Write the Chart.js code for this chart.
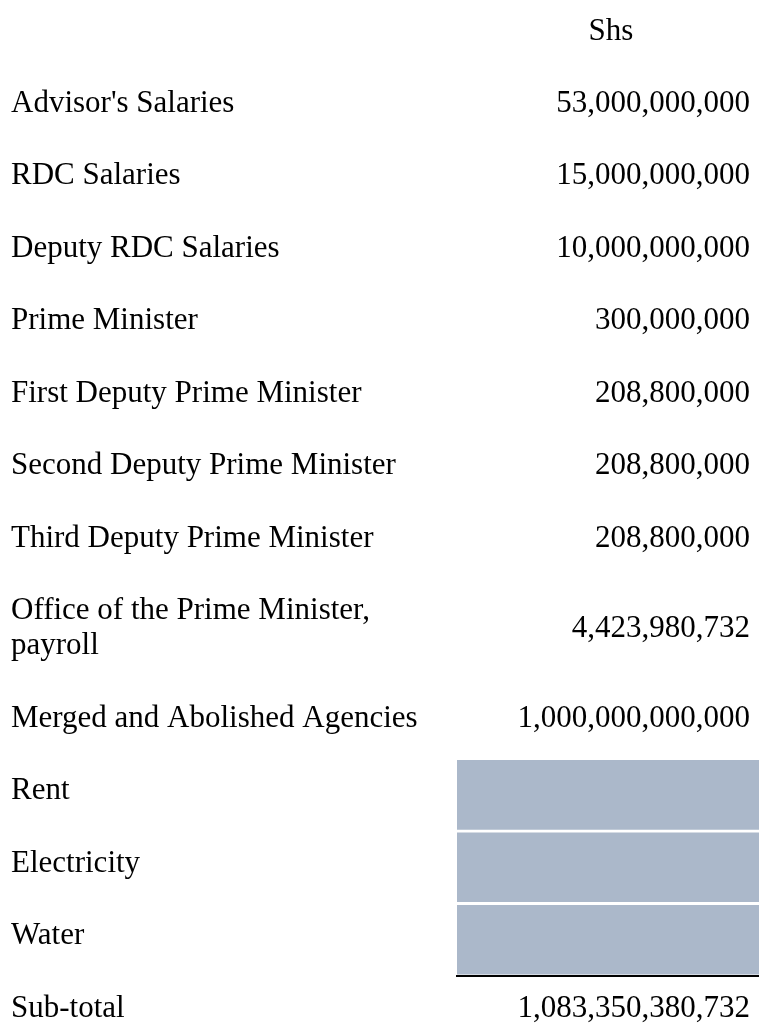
<!DOCTYPE html>
<html>
<head>
<meta charset="utf-8">
<script src="https://cdn.jsdelivr.net/npm/chart.js@4/dist/chart.umd.min.js"></script>
<style>
  html, body { margin: 0; padding: 0; background: #ffffff; }
  #wrap { width: 759px; height: 1023px; position: relative; overflow: hidden; }
  canvas { display: block; }
</style>
</head>
<body>
<div id="wrap"><canvas id="c" width="759" height="1023"></canvas></div>
<script>
// ---- data ----
const columnHeader = "Shs";
const categories = [
  "Advisor's Salaries",
  "RDC Salaries",
  "Deputy RDC Salaries",
  "Prime Minister",
  "First Deputy Prime Minister",
  "Second Deputy Prime Minister",
  "Third Deputy Prime Minister",
  ["Office of the Prime Minister,", "payroll"],
  "Merged and Abolished Agencies",
  "Rent",
  "Electricity",
  "Water"
];
const amounts = [
  53000000000,
  15000000000,
  10000000000,
  300000000,
  208800000,
  208800000,
  208800000,
  4423980732,
  1000000000000,
  null,
  null,
  null
];
const totalLabel = "Sub-total";
const totalAmount = 1083350380732;

// ---- layout (computed, not data) ----
const FONT = '31px "Liberation Serif", "Times New Roman", serif';
const ROW_PITCH = 72.48;      // px per single-line row
const LINE_H = 35;            // px between lines of a wrapped label
const HEADER_CENTER = 35;     // px from top to header row centre
const BASE_OFF = 4.5;         // baseline below row centre
const H = 1023;

const allLabels = categories.concat([totalLabel]);
const allValues = amounts.concat([totalAmount]);
const lineCount = l => Array.isArray(l) ? l.length : 1;
const extraUnits = l => (lineCount(l) - 1) * (LINE_H / ROW_PITCH) / 2;

// row positions in "row units"; header sits at 0
const rowPos = [];
allLabels.forEach((l, i) => {
  if (i === 0) rowPos.push(1);
  else rowPos.push(rowPos[i - 1] + 1 + extraUnits(allLabels[i - 1]) + extraUnits(l));
});
const yMin = -HEADER_CENTER / ROW_PITCH;
const yMax = yMin + H / ROW_PITCH;

// shaded (empty) cells as floating bars spanning the value column
const shaded = [];
amounts.forEach((v, i) => { if (v === null) shaded.push({ x: [0, 1], y: rowPos[i] }); });

const fmt = v => v.toLocaleString('en-US');

const tablePlugin = {
  id: 'tableText',
  afterDatasetsDraw(chart) {
    const { ctx, chartArea, scales } = chart;
    const ys = scales.y;
    ctx.save();
    ctx.font = FONT;
    ctx.fillStyle = '#000000';
    ctx.textBaseline = 'alphabetic';

    // column header
    ctx.textAlign = 'center';
    ctx.fillText(columnHeader, (chartArea.left + chartArea.right) / 2 + 3, ys.getPixelForValue(0) + BASE_OFF);

    allLabels.forEach((lab, i) => {
      const cy = ys.getPixelForValue(rowPos[i]);
      const lines = Array.isArray(lab) ? lab : [lab];
      ctx.textAlign = 'left';
      lines.forEach((t, j) => {
        ctx.fillText(t, 11, cy + BASE_OFF + (j - (lines.length - 1) / 2) * LINE_H);
      });
      if (allValues[i] !== null) {
        ctx.textAlign = 'right';
        ctx.fillText(fmt(allValues[i]), chartArea.right - 9, cy + BASE_OFF);
      }
    });

    // rule above the sub-total
    const n = allLabels.length;
    const yLine = (ys.getPixelForValue(rowPos[n - 2]) + ys.getPixelForValue(rowPos[n - 1])) / 2;
    ctx.strokeStyle = '#000000';
    ctx.lineWidth = 2;
    ctx.beginPath();
    ctx.moveTo(chartArea.left - 1, yLine);
    ctx.lineTo(chartArea.right, yLine);
    ctx.stroke();
    ctx.restore();
  }
};

new Chart(document.getElementById('c'), {
  type: 'bar',
  data: {
    datasets: [{
      label: 'Shaded cells',
      data: shaded,
      backgroundColor: '#ABB8CA',
      borderWidth: 0,
      barThickness: 69
    }]
  },
  options: {
    indexAxis: 'y',
    responsive: false,
    animation: false,
    devicePixelRatio: 1,
    layout: { padding: { left: 457, right: 0, top: 0, bottom: 0 } },
    scales: {
      x: { type: 'linear', min: 0, max: 1, display: false },
      y: { type: 'linear', min: yMin, max: yMax, reverse: true, offset: false, display: false }
    },
    plugins: {
      legend: { display: false },
      tooltip: { enabled: false },
      title: { display: false }
    }
  },
  plugins: [tablePlugin]
});
</script>
</body>
</html>
